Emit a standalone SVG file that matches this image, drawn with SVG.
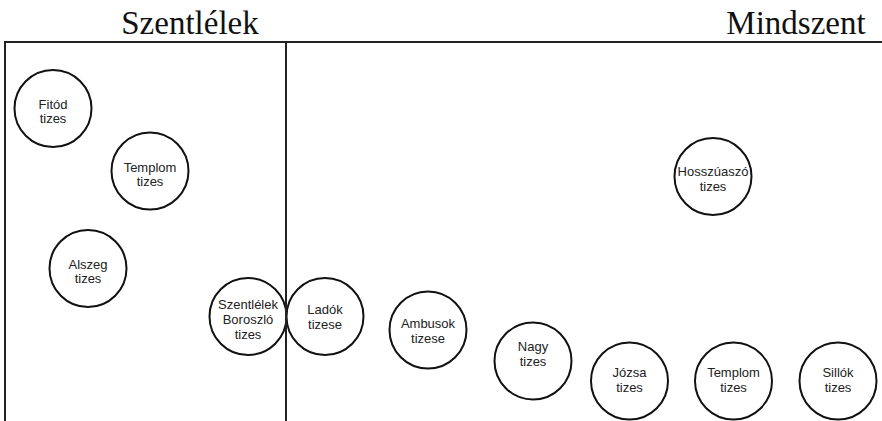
<svg xmlns="http://www.w3.org/2000/svg" width="882" height="421" viewBox="0 0 882 421">
<style>
.c{fill:#fff;stroke:#111;stroke-width:2}
.t{font-family:"Liberation Sans",Arial,sans-serif;font-size:13px;fill:#222;text-anchor:middle}
.h{font-family:"Liberation Serif","Times New Roman",serif;font-size:33px;fill:#111;text-anchor:middle}
.ln{stroke:#222;stroke-width:2;fill:none}
</style>
<rect width="882" height="421" fill="#fff"/>
<text class="h" x="190" y="34">Szentlélek</text>
<text class="h" x="796" y="34">Mindszent</text>
<g id="n-fitod"><circle class="c" cx="53" cy="108.5" r="38.5"/><text class="t" x="53" y="108.5">Fitód</text><text class="t" x="53" y="123">tizes</text></g>
<g id="n-templom1"><circle class="c" cx="150" cy="171" r="38.5"/><text class="t" x="150" y="171.5">Templom</text><text class="t" x="150" y="186">tizes</text></g>
<g id="n-alszeg"><circle class="c" cx="88" cy="268.5" r="38.5"/><text class="t" x="88" y="268.5">Alszeg</text><text class="t" x="88" y="283">tizes</text></g>
<g id="n-szentlelek"><circle class="c" cx="248" cy="316.5" r="38.5"/><text class="t" x="248" y="309">Szentlélek</text><text class="t" x="248" y="324">Boroszló</text><text class="t" x="248" y="339">tizes</text></g>
<g id="n-ladok"><circle class="c" cx="325" cy="316.5" r="38.5"/><text class="t" x="325" y="314">Ladók</text><text class="t" x="325" y="328.5">tizese</text></g>
<g id="n-ambusok"><circle class="c" cx="428" cy="330" r="38.5"/><text class="t" x="428" y="328">Ambusok</text><text class="t" x="428" y="342.5">tizese</text></g>
<g id="n-hosszuaszo"><circle class="c" cx="713" cy="176.5" r="38.5"/><text class="t" x="713" y="176">Hosszúaszó</text><text class="t" x="713" y="190.5">tizes</text></g>
<g id="n-nagy"><circle class="c" cx="533" cy="361" r="38.5"/><text class="t" x="533" y="351">Nagy</text><text class="t" x="533" y="365.5">tizes</text></g>
<g id="n-jozsa"><circle class="c" cx="629.5" cy="381" r="38.5"/><text class="t" x="629.5" y="377">Józsa</text><text class="t" x="629.5" y="391.5">tizes</text></g>
<g id="n-templom2"><circle class="c" cx="733.5" cy="381" r="38.5"/><text class="t" x="733.5" y="377">Templom</text><text class="t" x="733.5" y="391.5">tizes</text></g>
<g id="n-sillok"><circle class="c" cx="838" cy="381" r="38.5"/><text class="t" x="838" y="377">Sillók</text><text class="t" x="838" y="391.5">tizes</text></g>
<g id="connectors">
<path class="ln" d="M5,421 V42 H882"/>
<path class="ln" d="M286,42 V421"/>
</g>
</svg>
